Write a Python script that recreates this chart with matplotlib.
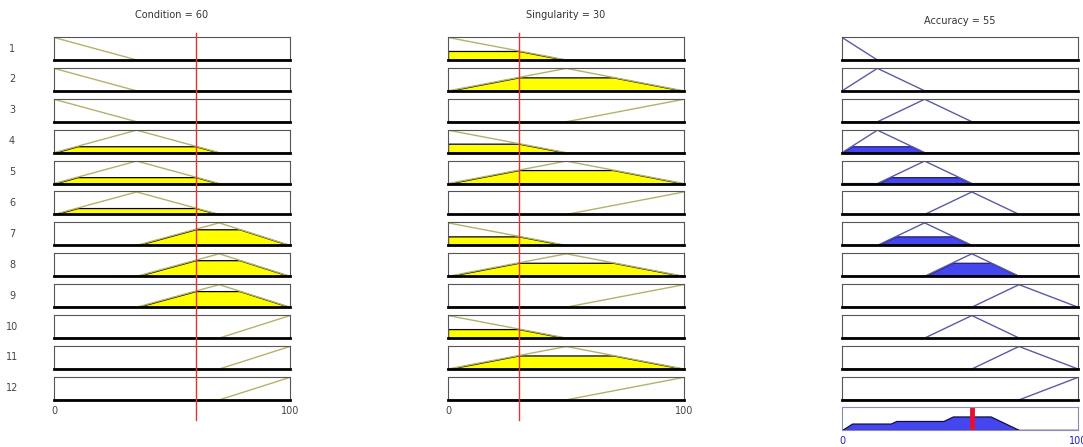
import numpy as np
from matplotlib import pyplot as plt
from matplotlib import transforms
from matplotlib.lines import Line2D

# membership function parameters (triangles a, b, c)
cond_params = [[0, 0, 35], [0, 35, 70], [35, 70, 100], [70, 100, 100]]
sing_params = [[0, 0, 50], [0, 50, 100], [50, 100, 100]]
acc_params = [[0, 0, 15], [0, 15, 35], [15, 35, 55], [35, 55, 75], [55, 75, 100], [75, 100, 100]]

# rule base: index of mf used by each rule
rule_cond = [0, 0, 0, 1, 1, 1, 2, 2, 2, 3, 3, 3]
rule_sing = [0, 1, 2, 0, 1, 2, 0, 1, 2, 0, 1, 2]
rule_acc = [0, 1, 2, 1, 2, 3, 2, 3, 4, 3, 4, 5]

condition = 60
singularity = 30
accuracy = 55

W, H = 1083, 447
fig = plt.figure(figsize=(W / 100, H / 100), dpi=100)
x = np.linspace(0, 100, 1001)


def trimf(v, p):
    a, b, c = p
    v = np.asarray(v, dtype=float)
    up = np.ones_like(v) if b == a else (v - a) / (b - a)
    down = np.ones_like(v) if c == b else (c - v) / (c - b)
    return np.clip(np.minimum(up, down), 0, 1)


def box(left, top, width=236, height=23):
    ax = fig.add_axes([left / W, 1 - (top + height) / H, width / W, height / H])
    ax.set_xlim(0, 100)
    ax.set_ylim(0, 1.02)
    ax.set_xticks([])
    ax.set_yticks([])
    for s in ['top', 'left', 'right']:
        ax.spines[s].set_color('#555555')
        ax.spines[s].set_linewidth(0.8)
    ax.spines['bottom'].set_color('black')
    ax.spines['bottom'].set_linewidth(2)
    return ax


cols = [54, 448, 842]
row_top = 37
row_step = 30.9
yellow_line = '#b4b26a'
blue_line = '#5a5aa8'
aggregate = np.zeros_like(x)

for i in range(12):
    top = row_top + row_step * i
    fig.text(12 / W, 1 - (top + 11.5) / H, str(i + 1), ha='center', va='center',
             fontsize=7, color='#444444')

    mu_c = float(trimf(condition, cond_params[rule_cond[i]]))
    mu_s = float(trimf(singularity, sing_params[rule_sing[i]]))
    fire = min(mu_c, mu_s)

    # inputs
    for left, params, mu in [(cols[0], cond_params[rule_cond[i]], mu_c),
                             (cols[1], sing_params[rule_sing[i]], mu_s)]:
        ax = box(left, top)
        y = trimf(x, params)
        ax.plot(x, y, color=yellow_line, linewidth=1)
        if mu > 0:
            ax.fill_between(x, 0, np.minimum(y, mu), facecolor='#ffff00',
                            edgecolor='black', linewidth=0.9)
        if i == 0 and left == cols[0]:
            cond_ax = ax
        if i == 0 and left == cols[1]:
            sing_ax = ax

    # output
    ax = box(cols[2], top, width=236)
    y = trimf(x, acc_params[rule_acc[i]])
    ax.plot(x, y, color=blue_line, linewidth=1)
    if fire > 0:
        clipped = np.minimum(y, fire)
        ax.fill_between(x, 0, clipped, facecolor='#4646f0',
                        edgecolor='#20206a', linewidth=0.9)
        aggregate = np.maximum(aggregate, clipped)

# aggregated output
agg = box(cols[2], 407, width=236)
for s in agg.spines.values():
    s.set_color('#8a8ab8')
    s.set_linewidth(0.8)
agg.fill_between(x, 0, aggregate, facecolor='#4646f0', edgecolor='#101040', linewidth=0.9)
agg.axvline(accuracy, color='#e8102a', linewidth=3.5)

# input value lines, drawn on top of all the rule boxes
for a, val in [(cond_ax, condition), (sing_ax, singularity)]:
    tr = transforms.blended_transform_factory(a.transData, fig.transFigure)
    fig.add_artist(Line2D([val, val], [1 - 33 / H, 1 - 420 / H], color='#e83030',
                          linewidth=1, transform=tr, zorder=10))

# titles
fig.text((cols[0] + 118) / W, 1 - 15 / H, f'Condition = {condition}', ha='center',
         va='center', fontsize=7, color='#333333')
fig.text((cols[1] + 118) / W, 1 - 15 / H, f'Singularity = {singularity}', ha='center',
         va='center', fontsize=7, color='#333333')
fig.text((cols[2] + 118) / W, 1 - 21 / H, f'Accuracy = {accuracy}', ha='center',
         va='center', fontsize=7, color='#333333')

# axis end labels
for left in cols[:2]:
    fig.text(left / W, 1 - 411 / H, '0', ha='center', va='center', fontsize=7, color='#444444')
    fig.text((left + 236) / W, 1 - 411 / H, '100', ha='center', va='center', fontsize=7,
             color='#444444')
fig.text(cols[2] / W, 1 - 441 / H, '0', ha='center', va='center', fontsize=7, color='#2020c0')
fig.text((cols[2] + 236) / W, 1 - 441 / H, '100', ha='center', va='center', fontsize=7,
         color='#2020c0')

fig.savefig('out.png', dpi=100)
